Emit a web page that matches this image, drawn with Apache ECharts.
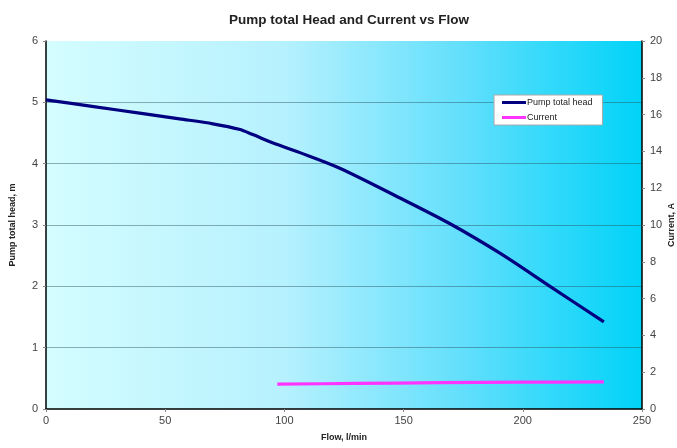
<!DOCTYPE html>
<html><head><meta charset="utf-8">
<script src="https://cdn.jsdelivr.net/npm/echarts@6/dist/echarts.min.js"></script>
<style>html,body{margin:0;padding:0;background:#fff}#c{width:677px;height:448px}</style>
</head><body><div id="c"></div>
<script>
var headFlow = [0, 20, 40, 56, 70, 81, 87, 95, 106.5, 123, 148.5, 169.5, 190.4, 211.4, 234];
var headValues = [5.04, 4.93, 4.82, 4.73, 4.65, 4.56, 4.47, 4.34, 4.18, 3.93, 3.44, 3.02, 2.54, 2.0, 1.42];
var currentFlow = [97, 130, 165, 200, 234];
var currentValues = [1.35, 1.39, 1.43, 1.46, 1.47];
var seriesNames = ['Pump total head', 'Current'];

function pairs(xs, ys){ return xs.map(function(x,i){ return [x, ys[i]]; }); }

var chart = echarts.init(document.getElementById('c'), null, {renderer:'canvas'});
var font = 'Liberation Sans, Arial, Helvetica, sans-serif';
chart.setOption({
  animation: false,
  backgroundColor: '#fff',
  title: {
    text: 'Pump total Head and Current vs Flow',
    left: 224, top: 8,
    textStyle: {fontFamily: font, fontSize: 13.5, fontWeight: 'bold', color: '#222'}
  },
  legend: {
    data: seriesNames,
    orient: 'vertical',
    left: 494, top: 95,
    padding: [3, 10, 3, 8],
    itemGap: 6,
    itemWidth: 24, itemHeight: 3,
    icon: 'rect',
    backgroundColor: '#fff',
    borderColor: '#aaa', borderWidth: 1,
    textStyle: {fontFamily: font, fontSize: 9, color: '#222', padding: [0,0,0,-4]}
  },
  grid: {
    left: 46, right: 35, top: 41, bottom: 39,
    containLabel: false,
    outerBoundsMode: 'none',
    show: true, borderWidth: 0,
    backgroundColor: new echarts.graphic.LinearGradient(0,0,1,0,[
      {offset:0, color:'#d4fdff'},
      {offset:0.4, color:'#b6f1fe'},
      {offset:0.7, color:'#62dffc'},
      {offset:1, color:'#00d3f8'}
    ])
  },
  xAxis: {
    type: 'value', min: 0, max: 250, interval: 50,
    name: 'Flow, l/min', nameLocation: 'middle', nameGap: 24, nameMoveOverlap: false,
    nameTextStyle: {fontFamily: font, fontSize: 9, fontWeight: 'bold', color: '#222'},
    axisLine: {lineStyle: {color: '#000', width: 1.5}},
    axisTick: {show: true, length: 3, lineStyle: {color: '#888'}},
    axisLabel: {fontFamily: font, fontSize: 11, color: '#444', margin: 6},
    splitLine: {show: false}
  },
  yAxis: [{
    type: 'value', min: 0, max: 6, interval: 1,
    name: 'Pump total head, m', nameLocation: 'middle', nameGap: 29, nameRotate: 90, nameMoveOverlap: false,
    nameTextStyle: {fontFamily: font, fontSize: 9, fontWeight: 'bold', color: '#222'},
    axisLine: {show: true, lineStyle: {color: '#000', width: 1.5}},
    axisTick: {show: true, length: 3, lineStyle: {color: '#888'}},
    axisLabel: {fontFamily: font, fontSize: 11, color: '#444', margin: 8},
    splitLine: {show: true, showMaxLine: false, showMinLine: false, lineStyle: {color: 'rgba(40,80,90,0.45)', width: 1}}
  },{
    type: 'value', min: 0, max: 20, interval: 2, position: 'right',
    name: 'Current, A', nameLocation: 'middle', nameGap: 25, nameRotate: 90, nameMoveOverlap: false,
    nameTextStyle: {fontFamily: font, fontSize: 9, fontWeight: 'bold', color: '#222'},
    axisLine: {show: true, lineStyle: {color: '#000', width: 1.5}},
    axisTick: {show: true, length: 3, lineStyle: {color: '#888'}},
    axisLabel: {fontFamily: font, fontSize: 11, color: '#444', margin: 8},
    splitLine: {show: false}
  }],
  series: [{
    name: seriesNames[0], type: 'line', yAxisIndex: 0,
    data: pairs(headFlow, headValues),
    smooth: 0.3, showSymbol: false,
    lineStyle: {color: '#000080', width: 3.2},
    itemStyle: {color: '#000080'}
  },{
    name: seriesNames[1], type: 'line', yAxisIndex: 1,
    data: pairs(currentFlow, currentValues),
    smooth: 0.3, showSymbol: false,
    lineStyle: {color: '#ff33ff', width: 3.2},
    itemStyle: {color: '#ff33ff'}
  }]
});
</script></body></html>
